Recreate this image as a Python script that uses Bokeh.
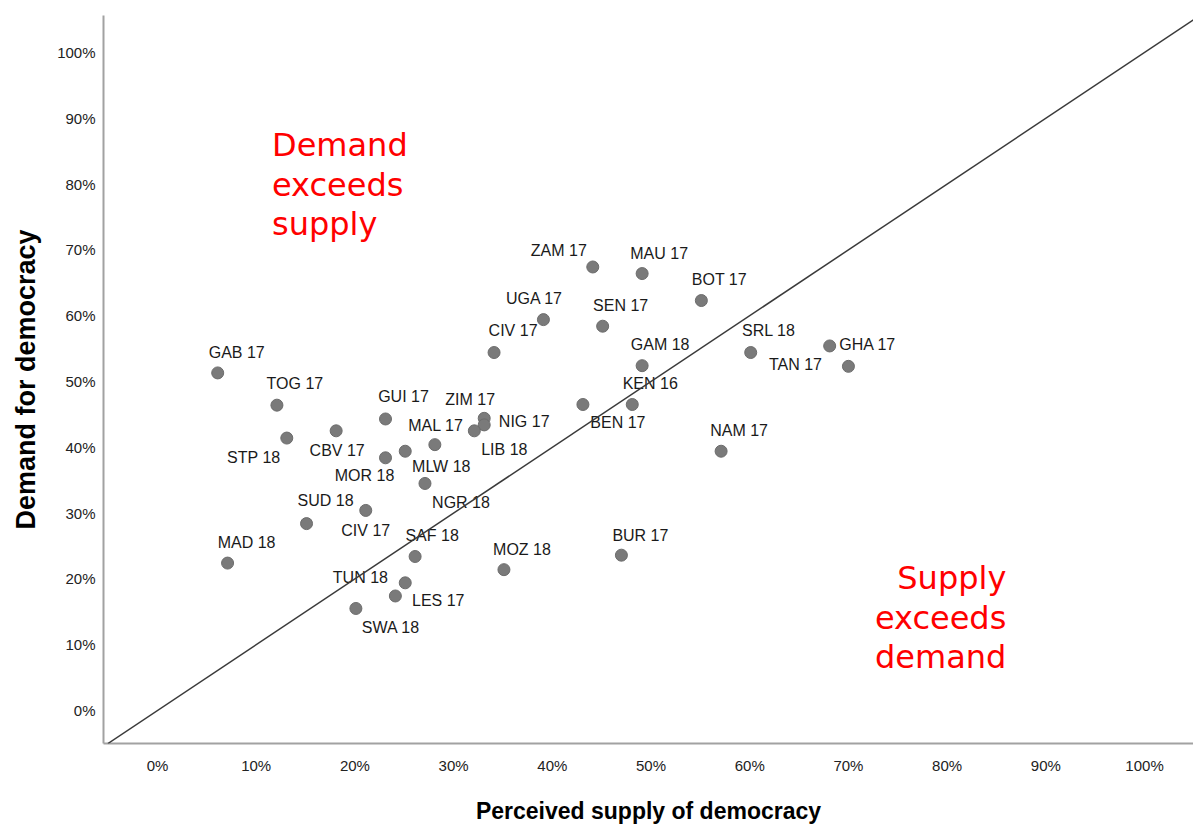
from bokeh.plotting import figure
from bokeh.models import ColumnDataSource, Range1d, FixedTicker, Slope, Label
from bokeh.core.properties import value
from bokeh.embed import file_html
from bokeh.resources import INLINE

# ---------------- data ----------------
countries = ["GAB 17", "TOG 17", "STP 18", "CBV 17", "GUI 17", "MOR 18", "MLW 18",
             "MAL 17", "NGR 18", "ZIM 17", "NIG 17", "LIB 18", "SUD 18", "CIV 17",
             "MAD 18", "SAF 18", "MOZ 18", "TUN 18", "LES 17", "SWA 18", "ZAM 17",
             "MAU 17", "BOT 17", "UGA 17", "SEN 17", "CIV 17", "GAM 18", "SRL 18",
             "GHA 17", "TAN 17", "KEN 16", "BEN 17", "NAM 17", "BUR 17"]
supply = [6.1, 12.1, 13.1, 18.1, 23.1, 23.1, 25.1, 28.1, 27.1, 33.1, 33.1, 32.1,
          15.1, 21.1, 7.1, 26.1, 35.1, 24.1, 25.1, 20.1, 44.1, 49.1, 55.1, 39.1,
          45.1, 34.1, 49.1, 60.1, 68.1, 70.0, 48.1, 43.1, 57.1, 47.0]
demand = [51.3, 46.4, 41.4, 42.5, 44.3, 38.4, 39.4, 40.4, 34.5, 44.4, 43.4, 42.5,
          28.4, 30.4, 22.4, 23.4, 21.4, 17.4, 19.4, 15.5, 67.4, 66.4, 62.3, 59.4,
          58.4, 54.4, 52.4, 54.4, 55.4, 52.3, 46.5, 46.5, 39.4, 23.6]
tick_values = [0, 10, 20, 30, 40, 50, 60, 70, 80, 90, 100]
tick_labels = ["0%", "10%", "20%", "30%", "40%", "50%", "60%", "70%", "80%", "90%", "100%"]

# label placement (screen pixel offsets of each label centre from its point)
label_dx = [19, 18, -33, 1, 18, -21, 36, 1, 36, -14, 40, 30, 19, 0, 19, 17, 18, -35,
            33, 35, -34, 17, 18, -9, 18, 19, 18, 18, 38, -53, 18, 35, 18, 19]
label_dy = [-20, -22, 19, 20, -22, 18, 15, -19, 19, -19, -3, 19, -23, 20, -21, -21,
            -20, -18, 18, 19, -16, -20, -21, -21, -21, -22, -21, -22, -1, -2, -21,
            18, -21, -20]

FONT = "Liberation Sans"
RED_FONT = "DejaVu Sans"

src = ColumnDataSource(dict(country=countries, supply=supply, demand=demand,
                            dx=label_dx, dy=label_dy))

p = figure(width=1193, height=827, output_backend="svg", toolbar_location=None,
           x_range=Range1d(-5.47, 104.96), y_range=Range1d(-5.02, 105.62),
           min_border_left=103, min_border_right=0, min_border_top=15,
           min_border_bottom=84, background_fill_color="white",
           border_fill_color="white")
p.outline_line_color = None
p.xgrid.visible = False
p.ygrid.visible = False

for ax in (p.xaxis[0], p.yaxis[0]):
    ax.ticker = FixedTicker(ticks=tick_values)
    ax.major_label_overrides = {t: l for t, l in zip(tick_values, tick_labels)}
    ax.major_tick_line_color = None
    ax.minor_tick_line_color = None
    ax.major_tick_out = 0
    ax.major_tick_in = 0
    ax.axis_line_color = "#a2a2a2"
    ax.axis_line_width = 2
    ax.major_label_text_font = FONT
    ax.major_label_text_font_size = "15px"
    ax.major_label_text_color = "#222222"
    ax.axis_label_text_font = FONT
    ax.axis_label_text_font_style = "bold"
    ax.axis_label_text_color = "#000000"

p.xaxis.axis_label = "Perceived supply of democracy"
p.yaxis.axis_label = "Demand for democracy"
p.xaxis.axis_label_text_font_size = "23px"
p.yaxis.axis_label_text_font_size = "27px"
p.xaxis.major_label_standoff = 13
p.yaxis.major_label_standoff = 8
p.xaxis.axis_label_standoff = 21
p.yaxis.axis_label_standoff = 13

p.add_layout(Slope(gradient=1, y_intercept=0, line_color="#3a3a3a", line_width=1.5))

p.scatter(x="supply", y="demand", source=src, size=12, fill_color="#7a7a7a",
          line_color="#6c6c6c", line_width=1)
p.text(x="supply", y="demand", text="country", x_offset="dx", y_offset="dy",
       source=src, text_align="center", text_baseline="middle",
       text_font=value(FONT), text_font_size="16px", text_color="#1a1a1a")

# red region annotations
upper_lines = ["Demand", "exceeds", "supply"]
lower_lines = ["Supply", "exceeds", "demand"]
upper_y = [85.9, 79.9, 74.0]
lower_y = [20.1, 14.1, 8.2]
for t, yy in zip(upper_lines, upper_y):
    p.add_layout(Label(x=11.6, y=yy, text=t, text_align="left",
                       text_baseline="alphabetic", text_font=RED_FONT,
                       text_font_size="32px", text_color="#ff0000"))
for t, yy in zip(lower_lines, lower_y):
    p.add_layout(Label(x=86.0, y=yy, text=t, text_align="right",
                       text_baseline="alphabetic", text_font=RED_FONT,
                       text_font_size="32px", text_color="#ff0000"))

open("out.html", "w").write(file_html(p, INLINE))
